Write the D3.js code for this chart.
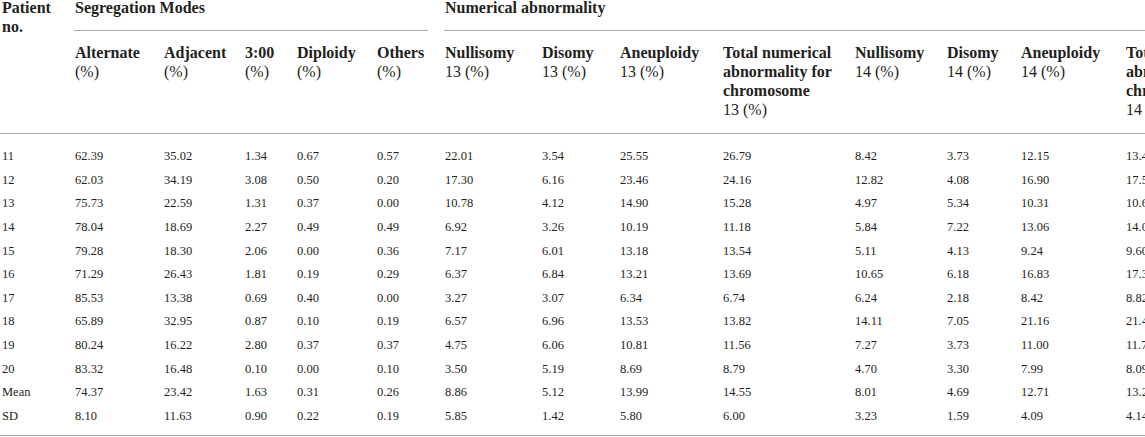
<!DOCTYPE html>
<html>
<head>
<meta charset="utf-8">
<script src="https://cdn.jsdelivr.net/npm/d3@7/dist/d3.min.js"></script>
<style>
  html, body { margin: 0; padding: 0; background: #fff; overflow: hidden; }
  svg text { font-family: "Liberation Serif", "Times New Roman", serif; fill: #231f20; }
  .head { font-size: 16px; font-weight: bold; }
  .head .plain { font-weight: normal; }
  .cell { font-size: 12.5px; }
  .rule { stroke: #a8a8a8; stroke-width: 1; }
</style>
</head>
<body>
<svg id="table" width="1145" height="437"></svg>
<script>
// TABLE DATA
const patients = ["11", "12", "13", "14", "15", "16", "17", "18", "19", "20", "Mean", "SD"];

const alternate  = [62.39, 62.03, 75.73, 78.04, 79.28, 71.29, 85.53, 65.89, 80.24, 83.32, 74.37, 8.10];
const adjacent   = [35.02, 34.19, 22.59, 18.69, 18.30, 26.43, 13.38, 32.95, 16.22, 16.48, 23.42, 11.63];
const threeZero  = [1.34, 3.08, 1.31, 2.27, 2.06, 1.81, 0.69, 0.87, 2.80, 0.10, 1.63, 0.90];
const diploidy   = [0.67, 0.50, 0.37, 0.49, 0.00, 0.19, 0.40, 0.10, 0.37, 0.00, 0.31, 0.22];
const others     = [0.57, 0.20, 0.00, 0.49, 0.36, 0.29, 0.00, 0.19, 0.37, 0.10, 0.26, 0.19];

const nulli13    = [22.01, 17.30, 10.78, 6.92, 7.17, 6.37, 3.27, 6.57, 4.75, 3.50, 8.86, 5.85];
const disomy13   = [3.54, 6.16, 4.12, 3.26, 6.01, 6.84, 3.07, 6.96, 6.06, 5.19, 5.12, 1.42];
const aneu13     = [25.55, 23.46, 14.90, 10.19, 13.18, 13.21, 6.34, 13.53, 10.81, 8.69, 13.99, 5.80];
const total13    = [26.79, 24.16, 15.28, 11.18, 13.54, 13.69, 6.74, 13.82, 11.56, 8.79, 14.55, 6.00];

const nulli14    = [8.42, 12.82, 4.97, 5.84, 5.11, 10.65, 6.24, 14.11, 7.27, 4.70, 8.01, 3.23];
const disomy14   = [3.73, 4.08, 5.34, 7.22, 4.13, 6.18, 2.18, 7.05, 3.73, 3.30, 4.69, 1.59];
const aneu14     = [12.15, 16.90, 10.31, 13.06, 9.24, 16.83, 8.42, 21.16, 11.00, 7.99, 12.71, 4.09];
// last column runs past the picture edge, second decimals are guesses
const total14    = [13.42, 17.54, 10.64, 14.03, 9.60, 17.36, 8.82, 21.45, 11.73, 8.09, 13.27, 4.14];

const groups = ["Segregation Modes", "Numerical abnormality"];

const columnTitles = [
  ["Patient", "no."],
  ["Alternate", "(%)"],
  ["Adjacent", "(%)"],
  ["3:00", "(%)"],
  ["Diploidy", "(%)"],
  ["Others", "(%)"],
  ["Nullisomy", "13 (%)"],
  ["Disomy", "13 (%)"],
  ["Aneuploidy", "13 (%)"],
  ["Total numerical", "abnormality for", "chromosome", "13 (%)"],
  ["Nullisomy", "14 (%)"],
  ["Disomy", "14 (%)"],
  ["Aneuploidy", "14 (%)"],
  ["Total numerical", "abnormality for", "chromosome", "14 (%)"]
];

const series = [patients, alternate, adjacent, threeZero, diploidy, others,
                nulli13, disomy13, aneu13, total13, nulli14, disomy14, aneu14, total14];

// LAYOUT
const W = 1145, H = 437;
const colLeft = [2, 75, 164, 245, 297, 377, 445, 542, 620, 723, 855, 947, 1021, 1126];
const lineH = 19;

const svg = d3.select("#table");

const x = d3.scaleOrdinal()
  .domain(d3.range(series.length))
  .range(colLeft);

const y = d3.scalePoint()
  .domain(patients)
  .range([160, 420]);

// group titles and their underlines
const groupSpan = [[1, 5], [6, 13]];
const groupG = svg.selectAll("g.group")
  .data(groups)
  .enter()
  .append("g")
  .attr("class", "group");

groupG.append("text")
  .attr("class", "head")
  .attr("x", (d, i) => x(groupSpan[i][0]))
  .attr("y", 13)
  .text(d => d);

groupG.append("line")
  .attr("class", "rule")
  .attr("x1", (d, i) => x(groupSpan[i][0]) - 1)
  .attr("x2", (d, i) => i == groups.length - 1 ? W : 428)
  .attr("y1", 30.5)
  .attr("y2", 30.5);

// column titles
const titles = svg.selectAll("text.col")
  .data(columnTitles)
  .enter()
  .append("text")
  .attr("class", "head col")
  .attr("x", (d, i) => x(i))
  .attr("y", (d, i) => i == 0 ? 13 : 58);

titles.selectAll("tspan")
  .data(d => d)
  .enter()
  .append("tspan")
  .attr("class", t => /^[0-9 (%)]+$/.test(t) ? "plain" : null)
  .attr("x", function() { return d3.select(this.parentNode).attr("x"); })
  .attr("dy", (t, j) => j == 0 ? 0 : lineH)
  .text(t => t);

// rules under header and at the bottom
svg.append("line")
  .attr("class", "rule")
  .attr("x1", 0).attr("x2", W)
  .attr("y1", 133.5).attr("y2", 133.5);

svg.append("line")
  .attr("class", "rule")
  .attr("x1", 0).attr("x2", W)
  .attr("y1", 435.5).attr("y2", 435.5);

// body cells
const cols = svg.selectAll("g.column")
  .data(series)
  .enter()
  .append("g")
  .attr("class", "column");

cols.each(function(values, i) {
  d3.select(this).selectAll("text")
    .data(values)
    .enter()
    .append("text")
    .attr("class", "cell")
    .attr("x", x(i))
    .attr("y", (v, r) => y(patients[r]))
    .text(v => typeof v === "number" ? v.toFixed(2) : v);
});
</script>
</body>
</html>
